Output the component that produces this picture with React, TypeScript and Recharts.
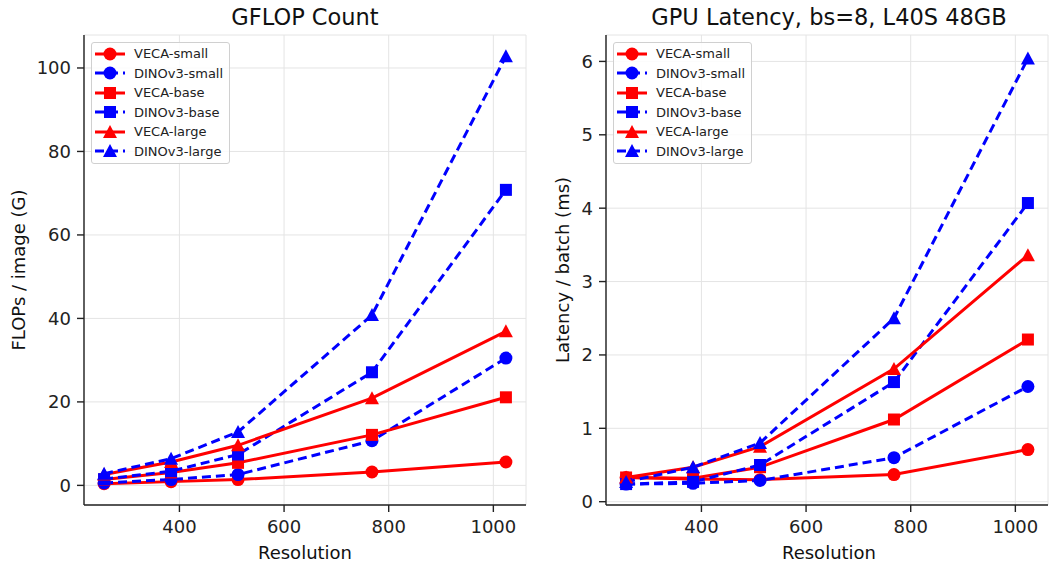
import { CartesianGrid, Line, LineChart, XAxis, YAxis } from 'recharts';

// Resolution sweep shared by both panels
const RESOLUTIONS = [256, 384, 512, 768, 1024];
const X_TICKS = [400, 600, 800, 1000];

const SERIES_NAMES = ['VECA-small', 'DINOv3-small', 'VECA-base', 'DINOv3-base', 'VECA-large', 'DINOv3-large'];
const SERIES_KEYS = ['vecaSmall', 'dinoSmall', 'vecaBase', 'dinoBase', 'vecaLarge', 'dinoLarge'];

// GFLOPs per image
const FLOPS_VECA_SMALL = [0.4, 0.9, 1.4, 3.2, 5.6];
const FLOPS_DINO_SMALL = [0.6, 1.4, 2.6, 10.7, 30.5];
const FLOPS_VECA_BASE = [1.4, 3.1, 5.4, 12.1, 21.1];
const FLOPS_DINO_BASE = [1.5, 3.4, 7.4, 27.1, 70.8];
const FLOPS_VECA_LARGE = [2.6, 5.6, 9.6, 20.9, 36.9];
const FLOPS_DINO_LARGE = [2.8, 6.4, 12.8, 40.8, 102.8];
const FLOPS_TICKS = [0, 20, 40, 60, 80, 100];

// latency per batch (ms), bs=8
const LAT_VECA_SMALL = [0.33, 0.31, 0.30, 0.37, 0.71];
const LAT_DINO_SMALL = [0.24, 0.25, 0.29, 0.60, 1.57];
const LAT_VECA_BASE = [0.33, 0.32, 0.47, 1.12, 2.21];
const LAT_DINO_BASE = [0.24, 0.27, 0.50, 1.63, 4.07];
const LAT_VECA_LARGE = [0.33, 0.47, 0.75, 1.81, 3.36];
const LAT_DINO_LARGE = [0.27, 0.47, 0.80, 2.50, 6.04];
const LAT_TICKS = [0, 1, 2, 3, 4, 5, 6];

const RED = '#ff0000';
const BLUE = '#0000ff';
const FONT = '"DejaVu Sans", sans-serif';
const SHAPES = ['circle', 'circle', 'square', 'square', 'triangle', 'triangle'];

function buildRows(series: number[][]) {
  return RESOLUTIONS.map((res, i) => {
    const row: Record<string, number> = { res };
    SERIES_KEYS.forEach((k, s) => (row[k] = series[s][i]));
    return row;
  });
}

const flopsRows = buildRows([
  FLOPS_VECA_SMALL, FLOPS_DINO_SMALL, FLOPS_VECA_BASE, FLOPS_DINO_BASE, FLOPS_VECA_LARGE, FLOPS_DINO_LARGE,
]);
const latRows = buildRows([
  LAT_VECA_SMALL, LAT_DINO_SMALL, LAT_VECA_BASE, LAT_DINO_BASE, LAT_VECA_LARGE, LAT_DINO_LARGE,
]);

function Marker({ shape, cx, cy, color }: { shape: string; cx: number; cy: number; color: string }) {
  if (shape === 'square') return <rect x={cx - 6} y={cy - 6} width={12} height={12} fill={color} />;
  if (shape === 'triangle')
    return <polygon points={`${cx},${cy - 7} ${cx - 7},${cy + 6} ${cx + 7},${cy + 6}`} fill={color} />;
  return <circle cx={cx} cy={cy} r={6.5} fill={color} />;
}

function Legend({ left, top }: { left: number; top: number }) {
  return (
    <div
      style={{
        position: 'absolute', left, top, width: 139, height: 122, boxSizing: 'border-box',
        border: '1px solid #d0d0d0', borderRadius: 3, background: 'rgba(255,255,255,0.85)',
        padding: '1px 0 0 3px',
      }}
    >
      {SERIES_NAMES.map((name, i) => {
        const color = i % 2 === 0 ? RED : BLUE;
        return (
          <div key={name} style={{ display: 'flex', alignItems: 'center', height: 19.5 }}>
            <svg width={30} height={16} style={{ marginRight: 9 }}>
              <line x1={0} x2={30} y1={8} y2={8} stroke={color} strokeWidth={3}
                strokeDasharray={i % 2 === 0 ? undefined : '9 5'} />
              <Marker shape={SHAPES[i]} cx={15} cy={8} color={color} />
            </svg>
            <span style={{ fontFamily: FONT, fontSize: 13, color: '#222' }}>{name}</span>
          </div>
        );
      })}
    </div>
  );
}

function Panel({
  rows, yDomain, yTicks, left, yWidth, rightMargin,
}: {
  rows: Record<string, number>[]; yDomain: [number, number]; yTicks: number[];
  left: number; yWidth: number; rightMargin: number;
}) {
  const tick = { fill: '#222', fontSize: 18, fontFamily: FONT };
  return (
    <div style={{ position: 'absolute', left, top: 0 }}>
      <LineChart width={yWidth + 442 + rightMargin} height={563} data={rows}
        margin={{ top: 35, right: rightMargin, bottom: 0, left: 0 }}>
        <CartesianGrid stroke="#e4e4e4" strokeWidth={1} />
        <XAxis dataKey="res" type="number" domain={[217.6, 1062.4]} ticks={X_TICKS}
          allowDataOverflow height={58} tick={tick} tickSize={7} tickMargin={8}
          stroke="#222" strokeWidth={1.4} />
        <YAxis type="number" domain={yDomain} ticks={yTicks} allowDataOverflow
          width={yWidth} tick={tick} tickSize={7} tickMargin={6} stroke="#222" strokeWidth={1.4} />
        {SERIES_KEYS.map((k, i) => {
          const color = i % 2 === 0 ? RED : BLUE;
          return (
            <Line key={k} dataKey={k} name={SERIES_NAMES[i]} stroke={color} strokeWidth={3}
              strokeDasharray={i % 2 === 0 ? undefined : '9 5'} isAnimationActive={false}
              activeDot={false}
              dot={(p: any) => (
                <Marker key={`${k}-${p.index}`} shape={SHAPES[i]} cx={p.cx} cy={p.cy} color={color} />
              )} />
          );
        })}
      </LineChart>
    </div>
  );
}

const textBase = { position: 'absolute' as const, fontFamily: FONT, color: '#111', whiteSpace: 'nowrap' as const };

export default function App() {
  return (
    <div style={{ position: 'fixed', left: 0, top: 0, width: 1055, height: 563, background: '#fff', overflow: 'hidden' }}>
      <Panel rows={flopsRows} yDomain={[-4.7, 107.9]} yTicks={FLOPS_TICKS} left={0} yWidth={84} rightMargin={4} />
      <Panel rows={latRows} yDomain={[-0.045, 6.36]} yTicks={LAT_TICKS} left={530} yWidth={76} rightMargin={3} />

      <div style={{ ...textBase, left: 305, top: 4, fontSize: 22.5, transform: 'translateX(-50%)' }}>GFLOP Count</div>
      <div style={{ ...textBase, left: 829, top: 4, fontSize: 22.5, transform: 'translateX(-50%)' }}>
        GPU Latency, bs=8, L40S 48GB
      </div>

      <div style={{ ...textBase, left: 305, top: 542, fontSize: 18, transform: 'translateX(-50%)' }}>Resolution</div>
      <div style={{ ...textBase, left: 829, top: 542, fontSize: 18, transform: 'translateX(-50%)' }}>Resolution</div>

      <div style={{ ...textBase, left: 18, top: 270, fontSize: 18, transform: 'translate(-50%,-50%) rotate(-90deg)' }}>
        FLOPs / image (G)
      </div>
      <div style={{ ...textBase, left: 562, top: 270, fontSize: 18, transform: 'translate(-50%,-50%) rotate(-90deg)' }}>
        Latency / batch (ms)
      </div>

      <Legend left={91} top={42} />
      <Legend left={613} top={42} />
    </div>
  );
}
